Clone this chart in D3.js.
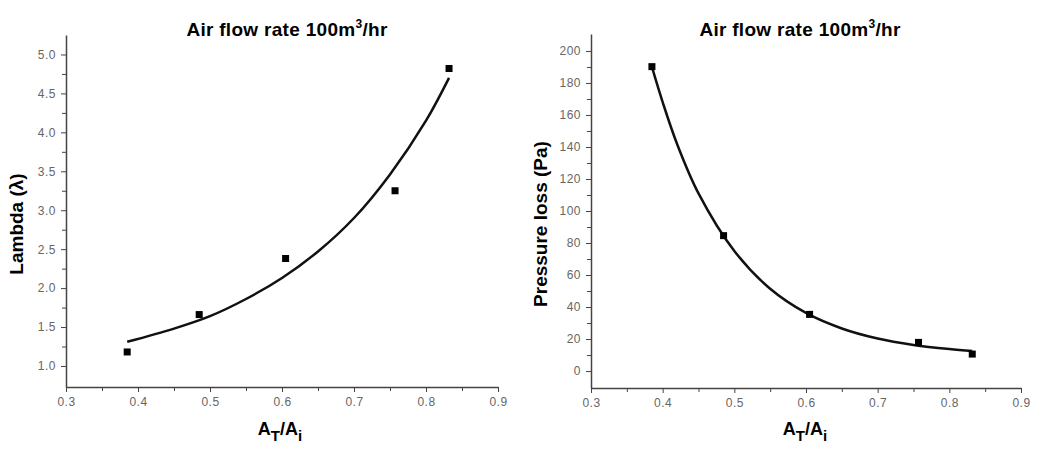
<!DOCTYPE html>
<html lang="en">
<head>
    <meta charset="UTF-8">
    <script src="https://d3js.org/d3.v7.min.js"></script>
    <style>
        body { margin: 0; background: #fff; font-family: "Liberation Sans", Arial, sans-serif; }
        .tick text { fill: #666; font-size: 12px; letter-spacing: 0.5px; }
        .axis path, .axis line { stroke: #444; }
    </style>
</head>
<body>
<div id="chart"></div>
<script>
// measured points
var ratio = [0.385, 0.485, 0.605, 0.757, 0.832];
var lambda = [1.18, 1.66, 2.38, 3.25, 4.82];
var pressure = [190.2, 84.6, 35.4, 17.9, 10.6];

// fitted curves
var fitX1 = [0.385, 0.45, 0.5, 0.55, 0.6, 0.65, 0.7, 0.75, 0.8, 0.832];
var fitLambda = [1.31, 1.48, 1.64, 1.86, 2.13, 2.47, 2.9, 3.46, 4.15, 4.7];
var fitX2 = [0.385, 0.4, 0.42, 0.45, 0.5, 0.55, 0.6, 0.65, 0.7, 0.75, 0.8, 0.832];
var fitPressure = [190, 168, 142, 111, 75, 51.4, 36.3, 26.6, 20.3, 16.3, 13.7, 12.5];

var xTicks = [0.3, 0.4, 0.5, 0.6, 0.7, 0.8, 0.9];
var lambdaTicks = [1.0, 1.5, 2.0, 2.5, 3.0, 3.5, 4.0, 4.5, 5.0];
var pressureTicks = [0, 20, 40, 60, 80, 100, 120, 140, 160, 180, 200];

var svg = d3.select("#chart").append("svg")
    .attr("width", 1046)
    .attr("height", 454);

function drawPanel(opt) {
    var g = svg.append("g");
    var x = d3.scaleLinear().domain([0.3, 0.9]).range([opt.left, opt.right]);
    var y = d3.scaleLinear().domain(opt.yDomain).range([opt.bottom, opt.top]);

    // minor ticks
    var xMinor = d3.range(0.35, 0.9, 0.1);
    g.append("g").attr("class", "axis")
        .attr("transform", "translate(0," + opt.bottom + ")")
        .call(d3.axisBottom(x).tickValues(xMinor).tickSize(4).tickFormat(""))
        .select(".domain").remove();
    g.append("g").attr("class", "axis")
        .attr("transform", "translate(" + opt.left + ",0)")
        .call(d3.axisLeft(y).tickValues(opt.yMinor).tickSize(4).tickFormat(""))
        .select(".domain").remove();

    // main axes
    g.append("g").attr("class", "axis")
        .attr("transform", "translate(0," + opt.bottom + ")")
        .call(d3.axisBottom(x).tickValues(xTicks).tickSize(5).tickSizeOuter(0).tickPadding(5)
            .tickFormat(d3.format(".1f")));
    g.append("g").attr("class", "axis")
        .attr("transform", "translate(" + opt.left + ",0)")
        .call(d3.axisLeft(y).tickValues(opt.yTicks).tickSize(5).tickSizeOuter(0).tickPadding(5)
            .tickFormat(opt.yFormat));
    g.selectAll(".axis .domain").attr("stroke-width", 1.5);

    // fitted line
    g.append("path")
        .datum(opt.fitX.map(function(d, i) { return [d, opt.fitY[i]]; }))
        .attr("fill", "none")
        .attr("stroke", "#111")
        .attr("stroke-width", 2.5)
        .attr("d", d3.line()
            .x(function(d) { return x(d[0]); })
            .y(function(d) { return y(d[1]); })
            .curve(d3.curveCatmullRom));

    // points
    g.selectAll(".pt")
        .data(ratio.map(function(d, i) { return [d, opt.values[i]]; }))
        .enter().append("rect")
        .attr("x", function(d) { return x(d[0]) - 3.5; })
        .attr("y", function(d) { return y(d[1]) - 3.5; })
        .attr("width", 7)
        .attr("height", 7)
        .attr("fill", "#000");

    // title
    var t = g.append("text")
        .attr("x", opt.titleX)
        .attr("y", 36)
        .attr("text-anchor", "middle")
        .style("font-size", "19px")
        .style("font-weight", "bold")
        .style("letter-spacing", "0.3px")
        .text("Air flow rate 100m");
    t.append("tspan").attr("dy", -8).style("font-size", "12px").text("3");
    t.append("tspan").attr("dy", 8).text("/hr");

    // x label
    var xl = g.append("text")
        .attr("x", opt.xLabelX)
        .attr("y", 435)
        .attr("text-anchor", "middle")
        .style("font-size", "18px")
        .style("font-weight", "bold")
        .text("A");
    xl.append("tspan").attr("dy", 6).style("font-size", "15px").text("T");
    xl.append("tspan").attr("dy", -6).text("/A");
    xl.append("tspan").attr("dy", 6).style("font-size", "15px").text("i");

    // y label
    g.append("text")
        .attr("transform", "translate(" + opt.yLabelX + "," + 224 + ") rotate(-90)")
        .attr("text-anchor", "middle")
        .style("font-size", "19px")
        .style("font-weight", "bold")
        .text(opt.yLabel);
}

drawPanel({
    left: 66, right: 498, top: 35, bottom: 387,
    yDomain: [0.73, 5.25],
    yTicks: lambdaTicks,
    yMinor: d3.range(1.25, 5.25, 0.5),
    yFormat: d3.format(".1f"),
    fitX: fitX1, fitY: fitLambda, values: lambda,
    yLabel: "Lambda (\u03bb)", yLabelX: 23, titleX: 287, xLabelX: 280
});

drawPanel({
    left: 591, right: 1021, top: 34, bottom: 388,
    yDomain: [-10.6, 210.6],
    yTicks: pressureTicks,
    yMinor: d3.range(10, 210, 20),
    yFormat: d3.format("d"),
    fitX: fitX2, fitY: fitPressure, values: pressure,
    yLabel: "Pressure loss (Pa)", yLabelX: 547, titleX: 800, xLabelX: 805
});
</script>
</body>
</html>
